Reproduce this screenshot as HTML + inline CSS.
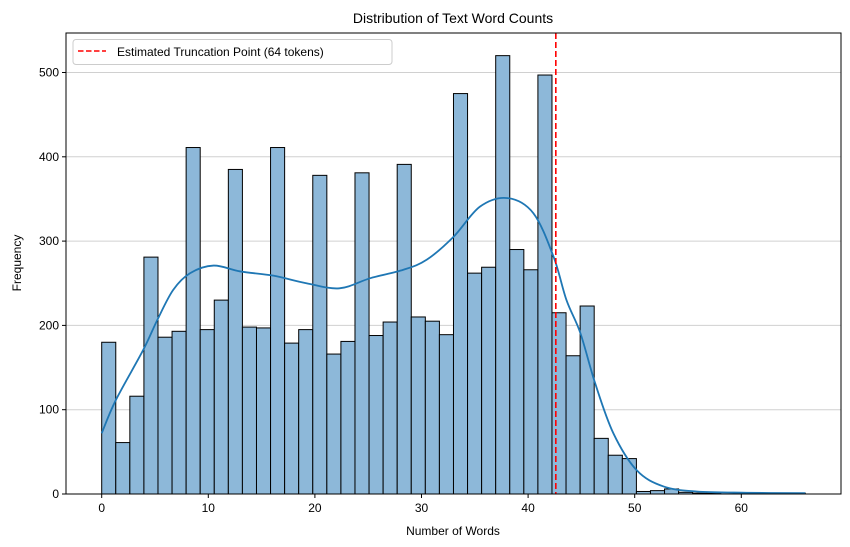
<!DOCTYPE html>
<html><head><meta charset="utf-8"><style>
html,body{margin:0;padding:0;background:#fff;}
svg{display:block;font-family:"Liberation Sans","DejaVu Sans",sans-serif;}
</style></head><body>
<svg id="chart" width="850" height="547" viewBox="0 0 850 547">
<rect x="0" y="0" width="850" height="547" fill="#fff"/>
<g id="grid"></g>
<g id="bars"></g>
<g id="kde"></g>
<g id="axes"></g>
<text x="453" y="23" text-anchor="middle" font-size="14" fill="#000">Distribution of Text Word Counts</text>
<text x="453" y="535" text-anchor="middle" font-size="12" fill="#000">Number of Words</text>
<text x="21" y="263" text-anchor="middle" font-size="12" fill="#000" transform="rotate(-90 21 263)">Frequency</text>
<g>
<rect x="73" y="39.5" width="319" height="25" rx="3" fill="#fff" fill-opacity="0.8" stroke="#ccc"/>
<line x1="78" y1="51" x2="106" y2="51" stroke="#f00" stroke-width="1.5" stroke-dasharray="5.5,2.5"/>
<text x="117" y="56" font-size="12" fill="#000">Estimated Truncation Point (64 tokens)</text>
</g>
</svg>
<script>
const binCounts = [180,61,116,281,186,193,411,195,230,385,198,197,411,179,195,378,166,181,381,188,204,391,210,205,189,475,262,269,520,290,266,497,215,164,223,66,46,42,3,4,6,2,1,1,0,0,0,0,0,1];
const binStart = 0;
const binWidth = 1.32;
const kdeX = [0,1.31,3.9,5.2,6.7,8.3,10.5,13,16.1,19.2,22.3,25.2,28.3,30.5,33,35.5,38.1,40.5,42.4,43.6,44.9,46.3,48,50.2,52.7,55.8,60.5,66];
const kdeY = [72,111,171,206,242,262,271,264,259,250,244,256,266,278,305,341,351,333,281,230,191,131,72,28,9,3,1.5,1];
const xTicks = [0,10,20,30,40,50,60];
const yTicks = [0,100,200,300,400,500];
const truncX = 42.6;

const NS = "http://www.w3.org/2000/svg";
const L = 66, R = 841, T = 33, B = 494;
const sx = v => 101.7 + v * 10.66;
const sy = v => B - v * 0.843;
function mk(tag, attrs, parent){ const e=document.createElementNS(NS,tag); for(const k in attrs) e.setAttribute(k,attrs[k]); parent.appendChild(e); return e; }

const grid = document.getElementById('grid');
yTicks.forEach(t=>{
  if(t===0) return;
  const g = mk('line',{x1:L,x2:R,y1:sy(t),y2:sy(t),stroke:'#d0d0d0','stroke-width':1},grid);
  
  
});

const bars = document.getElementById('bars');
binCounts.forEach((c,i)=>{
  if(c<=0) return;
  const x0 = sx(binStart + i*binWidth), x1 = sx(binStart + (i+1)*binWidth);
  const r = mk('rect',{x:x0,y:sy(c),width:x1-x0,height:B-sy(c),fill:'#8db8d9',stroke:'#000','stroke-width':1},bars);
  
  
});

const kde = document.getElementById('kde');
let d = '';
for(let i=0;i<kdeX.length;i++){
  const x=sx(kdeX[i]), y=sy(kdeY[i]);
  if(i===0){ d+='M'+x+' '+y; continue; }
  const x0=sx(kdeX[i-1]), y0=sy(kdeY[i-1]);
  const xp=sx(kdeX[Math.max(0,i-2)]), yp=sy(kdeY[Math.max(0,i-2)]);
  const xn=sx(kdeX[Math.min(kdeX.length-1,i+1)]), yn=sy(kdeY[Math.min(kdeX.length-1,i+1)]);
  const c1x=x0+(x-xp)/6, c1y=y0+(y-yp)/6, c2x=x-(xn-x0)/6, c2y=y-(yn-y0)/6;
  d+=' C'+c1x+' '+c1y+' '+c2x+' '+c2y+' '+x+' '+y;
}
const kp = mk('path',{d:d,fill:'none',stroke:'#1f77b4','stroke-width':1.8},kde);



const tl = mk('line',{x1:sx(truncX),x2:sx(truncX),y1:T,y2:B,stroke:'#f00','stroke-width':1.6,'stroke-dasharray':'6,3'},kde);



const axes = document.getElementById('axes');
const fr = mk('rect',{x:L,y:T,width:R-L,height:B-T,fill:'none',stroke:'#000','stroke-width':1},axes);


xTicks.forEach(t=>{
  const tk = mk('line',{x1:sx(t),x2:sx(t),y1:B,y2:B+4,stroke:'#000'},axes);
  
  
  const tx = mk('text',{x:sx(t),y:B+18,'text-anchor':'middle','font-size':12,fill:'#000'},axes);
  tx.textContent = t;
  
  
});
yTicks.forEach(t=>{
  const tk = mk('line',{x1:L-4,x2:L,y1:sy(t),y2:sy(t),stroke:'#000'},axes);
  
  
  const tx = mk('text',{x:L-7,y:sy(t)+4,'text-anchor':'end','font-size':12,fill:'#000'},axes);
  tx.textContent = t;
  
  
});
</script>
</body></html>
